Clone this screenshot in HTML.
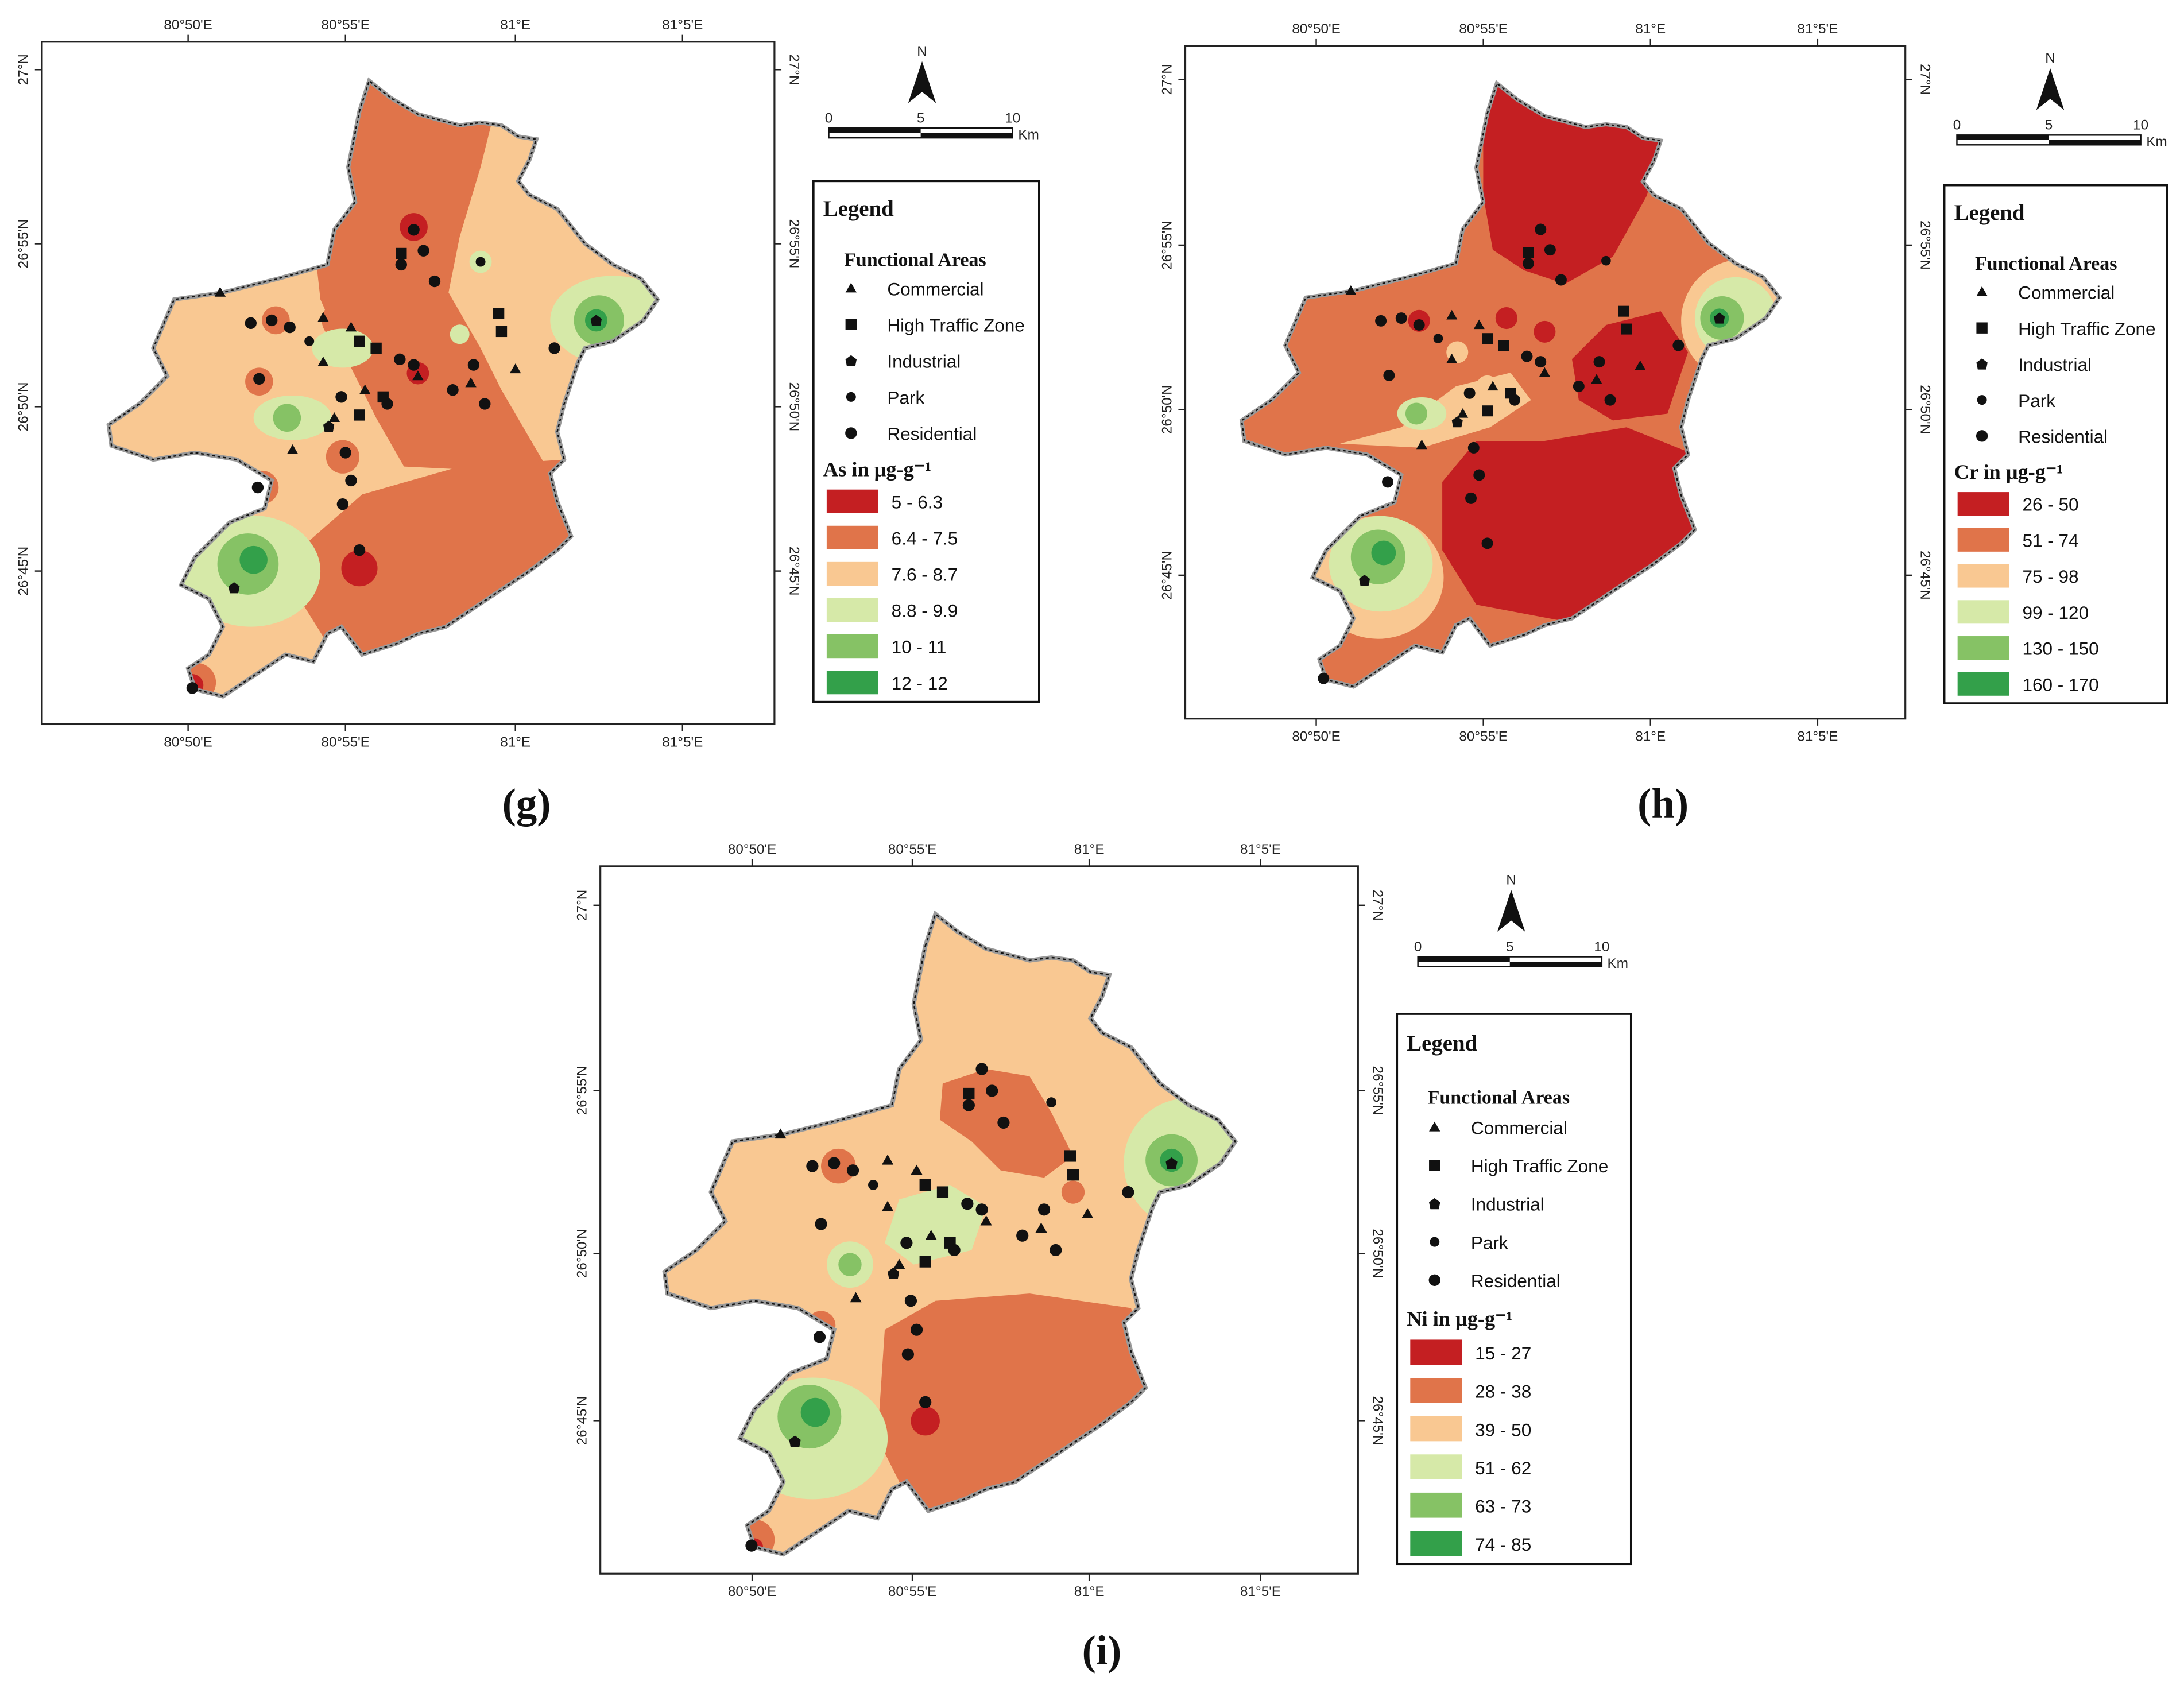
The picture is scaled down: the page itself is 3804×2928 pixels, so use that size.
<!DOCTYPE html>
<html><head><meta charset="utf-8"><style>
html,body{margin:0;padding:0;background:#fff}
svg{display:block}
text{font-family:"Liberation Sans",sans-serif}
.tk{font-size:10px;fill:#222}
.lg{font-size:13px;fill:#111}
.lh{font-family:"Liberation Serif",serif;font-weight:bold;fill:#111}
.cap{font-family:"Liberation Serif",serif;font-weight:bold;font-size:30px;fill:#111}
</style></head><body>
<svg id="fig" width="3804" height="2928" viewBox="0 0 1568 1207" xmlns="http://www.w3.org/2000/svg">
<defs>
<path id="city" d="M258,80 L265,58 L280,70 L300,82 L330,90 L345,88 L360,90 L372,98 L385,100 L380,115 L372,130 L380,140 L400,150 L420,175 L440,190 L460,200 L472,215 L462,230 L440,245 L420,250 L415,260 L405,290 L400,310 L405,330 L395,340 L400,360 L410,385 L400,395 L380,410 L350,430 L320,450 L300,455 L285,462 L260,470 L245,450 L235,455 L225,475 L205,470 L190,480 L175,490 L160,500 L140,495 L135,480 L150,470 L160,450 L150,430 L130,420 L140,400 L165,375 L190,365 L195,345 L170,330 L140,325 L110,330 L80,320 L78,305 L100,290 L120,270 L110,250 L125,215 L160,210 L200,200 L235,190 L240,165 L255,145 L250,120 Z"/>
<clipPath id="cc"><use href="#city"/></clipPath>
</defs>
<rect width="1568" height="1207" fill="#fff"/>
<g id="panels"></g>
</svg>
<script>
const NS="http://www.w3.org/2000/svg";
const C={r:"#c41f22",o:"#e0744a",p:"#f9c892",lg:"#d6e9a8",g:"#86c265",dg:"#33a04a"};
// sample points (map coords, panel g frame) and type: 0 commercial,1 traffic,2 industrial,3 park,4 residential
const ptX=[297,288,304,288,312,345,358,360,340,370,398,428,287,297,300,275,262,258,240,245,232,222,208,195,186,180,158,210,236,248,252,246,258,185,168,138,232,252,258,270,278,325,338,348];
const ptY=[165,182,180,190,202,188,225,238,262,265,250,230,258,262,270,285,280,298,300,285,260,245,235,230,272,232,210,323,306,325,345,362,395,350,422,494,228,235,245,250,290,280,275,290];
const ptT=[4,1,4,4,4,3,1,1,4,0,4,2,4,4,0,1,0,1,0,4,0,3,4,4,4,4,0,0,2,4,4,4,4,4,2,4,0,0,1,1,4,4,0,4];
// zones per panel: [type, fill, params]
const zones={
g:[["rect","p"],["path","o","M230,50 L360,60 L345,120 L330,170 L322,210 L345,250 L360,280 L395,340 L290,335 L270,300 L250,260 L230,215 L225,170 Z"],
 ["path","o","M220,390 L260,355 L330,335 L405,330 L420,390 L380,430 L300,470 L240,470 L215,430 Z"],
 ["c","o",245,230,14],["c","o",186,274,10],["c","o",246,328,12],["c","o",188,350,12],["c","o",198,230,10],["c","o",141,490,14],
 ["c","r",297,163,10],["c","r",258,408,13],["c","r",300,268,8],["c","r",138,492,8],
 ["e","lg",440,230,45,32],["c","g",430,230,18],["c","dg",428,230,8],
 ["e","lg",180,410,50,40],["c","g",178,405,22],["c","dg",182,402,10],
 ["e","lg",210,300,28,16],["c","g",206,300,10],["e","lg",246,250,22,14],["c","lg",345,188,8],["c","lg",330,240,7]],
h:[["rect","o"],["path","r","M255,55 L385,95 L375,140 L350,185 L315,205 L285,195 L262,180 L255,140 Z"],
 ["path","r","M225,350 L250,320 L300,320 L360,310 L410,330 L420,395 L390,430 L330,455 L250,440 L225,400 Z"],
 ["path","r","M320,260 L345,235 L385,225 L405,255 L390,300 L350,305 L325,290 Z"],
 ["path","p","M195,310 L235,280 L275,270 L290,290 L260,310 L210,325 L150,322 Z"],
 ["c","r",208,232,8],["c","r",272,230,8],["c","r",300,240,8],
 ["e","p",445,232,45,45],["e","lg",440,230,30,30],["c","g",430,230,16],["c","dg",428,230,7],
 ["e","p",178,420,48,45],["e","lg",180,410,38,35],["c","g",178,405,20],["c","dg",182,402,9],
 ["e","lg",210,300,18,12],["c","g",206,300,8],["c","p",236,255,8],["c","p",258,280,8]],
i:[["rect","p"],["path","o","M230,345 L265,325 L330,320 L400,330 L420,390 L380,430 L300,470 L250,470 L225,420 Z"],
 ["path","o","M270,175 L300,165 L330,170 L345,195 L360,225 L340,240 L310,235 L290,215 L268,200 Z"],
 ["c","o",198,232,12],["c","o",186,342,10],["c","o",360,250,8],["c","o",140,490,14],
 ["c","r",258,408,10],["c","r",140,495,6],
 ["e","lg",440,230,45,45],["c","g",428,228,18],["c","dg",428,228,8],
 ["e","lg",180,420,52,42],["c","g",178,405,22],["c","dg",182,402,10],
 ["path","lg","M240,255 L275,245 L300,260 L290,290 L250,300 L230,285 Z"],["e","lg",206,300,16,16],["c","g",206,300,8]]
};
const legends={
g:{t:"As in μg-g⁻¹",items:["5 - 6.3","6.4 - 7.5","7.6 - 8.7","8.8 - 9.9","10 - 11","12 - 12"]},
h:{t:"Cr in μg-g⁻¹",items:["26 - 50","51 - 74","75 - 98","99 - 120","130 - 150","160 - 170"]},
i:{t:"Ni in μg-g⁻¹",items:["15 - 27","28 - 38","39 - 50","51 - 62","63 - 73","74 - 85"]}
};
const ramp=[C.r,C.o,C.p,C.lg,C.g,C.dg];
const P={
g:{fx:30,fy:30,fw:526,fh:490,tf:"translate(0,0)",xt:[135,248,370,490],yt:[50,175,292,410],lx:584,ly:130,lw:162,lh:374,nx:662,sy:40,cap:[378,577]},
h:{fx:851,fy:33,fw:517,fh:483,tf:"translate(815,3) scale(0.98)",xt:[945,1065,1185,1305],yt:[57,176,294,413],lx:1396,ly:133,lw:160,lh:372,nx:1472,sy:45,cap:[1194,577]},
i:{fx:431,fy:622,fw:544,fh:508,tf:"translate(396,596) scale(1.04)",xt:[540,655,782,905],yt:[650,783,900,1020],lx:1003,ly:728,lw:168,lh:395,nx:1085,sy:635,cap:[791,1185]}
};
const xl=["80°50'E","80°55'E","81°E","81°5'E"],yl=["27°N","26°55'N","26°50'N","26°45'N"];
const root=document.getElementById('panels');
function el(t,a,p){const e=document.createElementNS(NS,t);for(const k in a)e.setAttribute(k,a[k]);(p||root).appendChild(e);return e;}
function tx(p,x,y,s,cls,extra){const e=el('text',Object.assign({x:x,y:y,class:cls},extra||{}),p);e.textContent=s;return e;}
function marker(g,x,y,t){
 if(t===0)return el('path',{d:`M${x},${y-4} L${x+4},${y+3} L${x-4},${y+3} Z`,fill:'#111'},g);
 if(t===1)return el('rect',{x:x-4,y:y-4,width:8,height:8,fill:'#111'},g);
 if(t===2)return el('path',{d:`M${x},${y-4} L${x+4},${y-1} L${x+3},${y+4} L${x-3},${y+4} L${x-4},${y-1} Z`,fill:'#111'},g);
 return el('circle',{cx:x,cy:y,r:t===3?3.5:4.2,fill:'#111'},g);
}
for(const k of ['g','h','i']){
 const q=P[k];
 const pg=el('g',{});
 
 
 const fr=el('rect',{x:q.fx,y:q.fy,width:q.fw,height:q.fh,fill:'#fff',stroke:'#222','stroke-width':1.3},pg);
 
 
 q.xt.forEach((x,i)=>{
  el('line',{x1:x,y1:q.fy,x2:x,y2:q.fy-5,stroke:'#222'},pg);
  el('line',{x1:x,y1:q.fy+q.fh,x2:x,y2:q.fy+q.fh+5,stroke:'#222'},pg);
  const a=tx(pg,x,q.fy-9,xl[i],'tk',{'text-anchor':'middle'});
  
  
  const b=tx(pg,x,q.fy+q.fh+16,xl[i],'tk',{'text-anchor':'middle'});
  
  
 });
 q.yt.forEach((y,i)=>{
  el('line',{x1:q.fx,y1:y,x2:q.fx-5,y2:y,stroke:'#222'},pg);
  el('line',{x1:q.fx+q.fw,y1:y,x2:q.fx+q.fw+5,y2:y,stroke:'#222'},pg);
  const a=tx(pg,0,0,yl[i],'tk',{'text-anchor':'middle',transform:`translate(${q.fx-10},${y}) rotate(-90)`});
  
  
  const b=tx(pg,0,0,yl[i],'tk',{'text-anchor':'middle',transform:`translate(${q.fx+q.fw+11},${y}) rotate(90)`});
  
  
 });
 const m=el('g',{transform:q.tf},pg);
 
 
 const z=el('g',{'clip-path':'url(#cc)'},m);
 for(const zz of zones[k]){
  let e;const f=C[zz[1]];
  if(zz[0]==='rect')e=el('rect',{x:0,y:0,width:600,height:600,fill:f},z);
  else if(zz[0]==='path')e=el('path',{d:zz[2],fill:f},z);
  else if(zz[0]==='c')e=el('circle',{cx:zz[2],cy:zz[3],r:zz[4],fill:f},z);
  else e=el('ellipse',{cx:zz[2],cy:zz[3],rx:zz[4],ry:zz[5],fill:f},z);
  
  
 }
 el('use',{href:'#city',fill:'none',stroke:'#999','stroke-width':3},m);
 const bd=el('use',{href:'#city',fill:'none',stroke:'#111','stroke-width':1,'stroke-dasharray':'2 2'},m);
 
 
 const pts=el('g',{},m);
 for(let i=0;i<ptX.length;i++){
  const mk=marker(pts,ptX[i],ptY[i],ptT[i]);
  
  
 }
 // north arrow & scale bar
 const na=el('g',{},pg);
 
 
 const nx=q.nx,sy=q.sy;
 tx(na,nx,sy,'N','tk',{'text-anchor':'middle','font-size':9});
 el('path',{d:`M${nx},${sy+4} L${nx+10},${sy+34} L${nx},${sy+26} L${nx-10},${sy+34} Z`,fill:'#111'},na);
 const sb=el('g',{},pg);
 
 
 const sx=nx-67,by=sy+52;
 el('rect',{x:sx,y:by,width:132,height:7,fill:'#fff',stroke:'#111','stroke-width':1},sb);
 el('rect',{x:sx,y:by,width:66,height:3.5,fill:'#111'},sb);
 el('rect',{x:sx+66,y:by+3.5,width:66,height:3.5,fill:'#111'},sb);
 tx(sb,sx,by-4,'0','tk',{'font-size':7,'text-anchor':'middle'});
 tx(sb,sx+66,by-4,'5','tk',{'font-size':7,'text-anchor':'middle'});
 tx(sb,sx+132,by-4,'10','tk',{'font-size':7,'text-anchor':'middle'});
 tx(sb,sx+136,by+8,'Km','tk',{'font-size':7});
 // legend
 const L=el('g',{},pg);
 
 
 const lx=q.lx,ly=q.ly,s=q.lh/374;
 el('rect',{x:lx,y:ly,width:q.lw,height:q.lh,fill:'#fff',stroke:'#111','stroke-width':1.5},L);
 tx(L,lx+7,ly+25*s,'Legend','lh',{'font-size':16});
 tx(L,lx+22,ly+61*s,'Functional Areas','lh',{'font-size':14});
 const fa=['Commercial','High Traffic Zone','Industrial','Park','Residential'];
 fa.forEach((n,i)=>{
  const y=ly+(77+i*26)*s;
  const mk=marker(L,lx+27,y,i);
  
  
  const t=tx(L,lx+53,y+5,n,'lg');
  
  
 });
 tx(L,lx+7,ly+212*s,legends[k].t,'lh',{'font-size':15});
 legends[k].items.forEach((n,i)=>{
  const y=ly+(221+i*26)*s;
  const r=el('rect',{x:lx+9,y:y,width:38,height:18*s,fill:ramp[i],stroke:'#fff'},L);
  
  
  const t=tx(L,lx+56,y+14*s,n,'lg');
  
  
 });
 const cp=tx(pg,q.cap[0],q.cap[1]+10,'('+k+')','cap',{'text-anchor':'middle'});
 
 
}
</script>
</body></html>
